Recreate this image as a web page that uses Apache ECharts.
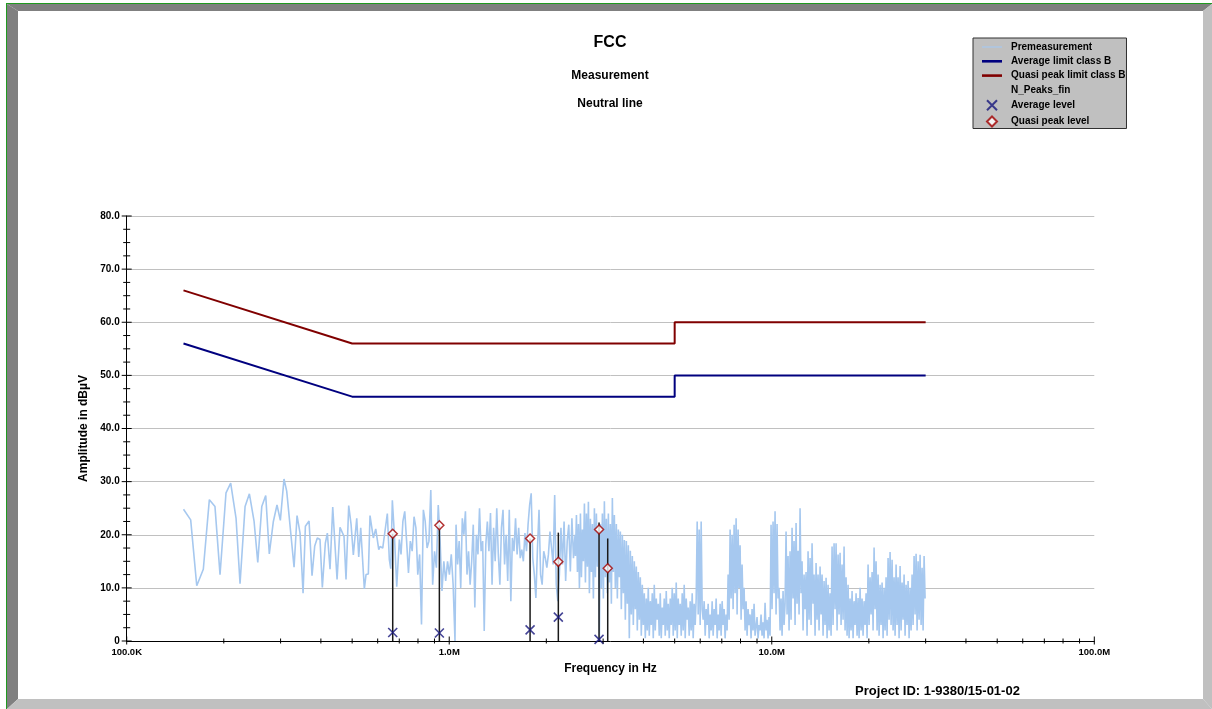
<!DOCTYPE html>
<html>
<head>
<meta charset="utf-8">
<script src="https://cdn.jsdelivr.net/npm/echarts@6/dist/echarts.min.js"></script>
<style>
html,body{margin:0;padding:0;background:#fff;}
#c{width:1212px;height:709px;}
</style>
</head>
<body>
<div id="c"></div>
<script>
// ---------------- DATA ----------------
// Premeasurement, sparse low-frequency part (frequency in kHz, level in dBµV)
const premSparseFreqKHz = [150,157.9,164.9,172.8,180.4,187.8,194.7,203.2,210.1,218.3,224.6,232.8,240.1,248.3,254.9,262.3,269.8,276.8,284.9,292.4,299.5,307.4,313.4,330.3,337.4,344.7,352.2,358.1,367.6,375.5,382.8,389.9,397.5,404.2,412.9,418.9,427.0,435.3,449.0,458.5,471.8,478.6,487.9,496.1,504.3,509.4,516.7,524.1,531.6,545.5,552.1,561.3,568.0,581.7,591.7,604.6,610.3,622.1,631.0,642.8,652.1,658.6,666.2,675.8,687.4,700.3];
const premSparseLevel = [24.8,22.8,10.4,13.5,26.6,25.3,12.5,27.9,29.7,23.1,10.8,25.3,27.7,22.5,14.8,25.3,27.4,16.4,22.5,25.6,22.7,30.5,28.2,13.9,23.6,20.3,9.0,21.6,22.6,12.3,17.9,19.4,19.1,10.1,18.4,20.3,13.5,25.2,11.6,21.4,19.7,11.6,25.5,22.0,16.2,15.9,23.1,15.8,21.3,9.8,12.5,12.6,23.6,19.4,21.1,17.2,17.8,17.5,17.3,24.0,15.3,13.6,26.5,20.2,10.2,19.1];

// Premeasurement, denser sweeps: each block = [start Hz, end Hz] + levels read across it
const premB1Range = [708.8e3, 1.042e6];
const premB1Level = [16.3,22.5,24.4,18.8,12.8,18.8,16.9,23.4,21.3,12.5,16.3,3.1,24.7,22.5,17.5,18.8,28.4,10.6,16.9,13.8,25.6,18.8,9.4,15,11.3,15,12.5,16.3,10.6,0];
const premB2Range = [1.0498e6, 2.455e6];
const premB2Level = [21.9,14.4,18.8,10,23.1,20,24.4,12.5,16.9,10.6,15,21.9,6.3,20,16.3,25,16.9,18.8,1.9,18.1,22.5,16.9,24.1,10.6,21.3,15,25,16.3,10.6,21.3,24.7,14.4,20,11.3,24.7,7.5,19.4,16.9,23.1,16.3,21.3,15.6,17.2,15,20.3,16.9,21.9,25.6,27.8,15.6,12.5,8.1,17.5,24.7,12.5,10.6,16.9,15.6,13.8,16.3,20.6,17.5,14.4,27.5,10.6,7.5,12.5,21.3,14.4,22.5,11.3,18.8,21.9,13.1,23.1,15.6,20];
const premCRange = [2.462e6, 8.876e6];
const premCLevel = [
  16,23.7,13,22,10,24,12,21,15,25.9,11,24,14,26.2,9,23,13,22,8,25,12,24,14,21,0.5,22,10,24,8,26.3,12,23,9,24,11,22,7,26.9,
  13,23.7,10,22,8,21,12,20.6,6,20,9,19,4,18.8,7,18,0.5,17,5,16,3,15,6,14,2,13,4,12,
  1,10.6,3,9,0.5,8,2,10,1,7.5,3,9,0.5,10.6,2,8,4,7,1,9,0.5,6.3,3,8,1,9.4,2,7,0.5,8,3,10,1,9,2,11,0.5,8,3,7,1,9,2,10.6,0.5,8,4,6.3,1,7.5,2,9,0.5,7,3,8,
  22.5,5,21,3,22.5,6,
  4,7.5,1,6,3,7,0.5,5,2,7.5,1,6,3,8,0.5,5,2,7,1,7.5,3,6,0.5,5,2,
  12.5,4,21,8,20,6,21.9,9,23.1,5,21,10,18,4,14.4,6,10,2,
  7.5,1,6,3,5,0.5,6,2,7,1
];
const premDRange = [8.939e6, 29.88e6];
const premDLevel = [
  1,4.5,0.5,3,2,5,1,3.5,0.5,7.2,2,4,0.5,4.5,1,
  21.9,6,22.5,9,24.4,5,22,8,
  10,2,8,1,9.4,3,7,
  20.6,5,16,2,
  16.9,4,21.3,8,18.8,3,22.2,7,17,5,25,9,
  15,2,12.5,6,13,1,16.9,4,15.6,3,18.4,7,12.5,1,14.7,4,12.5,2,14,5,12.5,1,11.3,3,11.9,0.5,10.6,2,9,1,
  17.8,3,18.4,6,18.4,2,16.3,5,16.6,3,14.4,4,17.8,2,12,
  1,10.6,0.5,8,2,9.4,0.5,7.5,3,9,1,8.1,0.5,10,2,8,1,7.5,3,9,0.5,
  14.4,3,12,5,13,2,17.6,6,15,2,
  12.5,1,10.6,3,11,0.5,10,2,12,1,
  15.6,4,16.75,3,15.3,2,12,
  1,14.4,3,12,0.5,14.1,2,11,4,12.5,1,10.6,3,11.3,0.5,10,2,
  12.5,3,16,5,16.4,2,15,4,16.25,3,13.8,2,16,8
];

// Limits (frequency Hz, level dBµV)
const avgLimitFreq = [150e3, 500e3, 5e6, 5e6, 30e6];
const avgLimitLevel = [56, 46, 46, 50, 50];
const qpLimitFreq = [150e3, 500e3, 5e6, 5e6, 30e6];
const qpLimitLevel = [66, 56, 56, 60, 60];

// Final peaks
const peakFreq = [668e3, 932e3, 1.781e6, 2.179e6, 2.914e6, 3.100e6];
const peakTop = [20.2, 21.8, 19.3, 20.4, 22.3, 19.3];
const peakQP = [20.2, 21.8, 19.3, 14.9, 21.0, 13.7];
const peakAvg = [1.6, 1.5, 2.1, 4.5, 0.3, null];

// Axis ticks / labels
const xMajorTicks = [1e5, 1e6, 1e7, 1e8];
const xTickLabels = {5: '100.0K', 6: '1.0M', 7: '10.0M', 8: '100.0M'};
const xMinorMultipliers = [2,3,4,5,6,7,8,9];
const yTickStep = 2.5;

// ---------------- BUILD ----------------
function sweep(range, levels) {
  const a = Math.log10(range[0]), b = Math.log10(range[1]), n = levels.length;
  return levels.map((v, i) => [Math.pow(10, a + (b - a) * (n === 1 ? 0 : i / (n - 1))), v]);
}
const premData = premSparseFreqKHz.map((f, i) => [f * 1e3, premSparseLevel[i]])
  .concat(sweep(premB1Range, premB1Level))
  .concat(sweep(premB2Range, premB2Level))
  .concat(sweep(premCRange, premCLevel))
  .concat(sweep(premDRange, premDLevel));

const xTickData = [];
xMajorTicks.forEach(f => xTickData.push([f, 0, 1]));
[1e5, 1e6, 1e7].forEach(d => xMinorMultipliers.forEach(m => xTickData.push([d * m, 0, 0])));
const yTickData = [];
for (let v = 0; v <= 80 + 1e-9; v += yTickStep) yTickData.push([1e5, v, (v % 10 === 0) ? 1 : 0]);

const FONT = '"Liberation Sans", Arial, sans-serif';
const PREM_COLOR = '#a6c8ef';
const AVG_COLOR = '#00007f';
const QP_COLOR = '#800000';
const chart = echarts.init(document.getElementById('c'), null, {renderer: 'canvas'});

const lineIcon = w => 'path://M0,0L0,0M0,' + (5 - w / 2) + 'L20,' + (5 - w / 2) + 'L20,' + (5 + w / 2) + 'L0,' + (5 + w / 2) + 'ZM20,10L20,10';

const option = {
  animation: false,
  backgroundColor: '#ffffff',
  textStyle: {fontFamily: FONT},
  grid: {left: 126.7, right: 117.7, top: 216, bottom: 68},
  legend: {
    orient: 'vertical', left: 973, top: 38,
    backgroundColor: '#c0c0c0', borderColor: '#303030', borderWidth: 1,
    padding: [4, 1, 1, 9],
    itemWidth: 20, itemHeight: 10, itemGap: 4.3,
    selectedMode: false,
    textStyle: {fontSize: 10, fontWeight: 'bold', color: '#000', fontFamily: FONT, padding: [0, 0, 0, 4]},
    data: [
      {name: 'Premeasurement', icon: lineIcon(1.2), itemStyle: {color: PREM_COLOR, borderWidth: 0}},
      {name: 'Average limit class B', icon: lineIcon(2.6), itemStyle: {color: AVG_COLOR, borderWidth: 0}},
      {name: 'Quasi peak limit class B', icon: lineIcon(2.6), itemStyle: {color: QP_COLOR, borderWidth: 0}},
      {name: 'N_Peaks_fin', icon: 'rect', itemStyle: {color: 'transparent', borderWidth: 0, opacity: 0}},
      {name: 'Average level', icon: 'path://M0,0L10,10M10,0L0,10'},
      {name: 'Quasi peak level', icon: 'path://M5,1L9,5L5,9L1,5Z'}
    ]
  },
  xAxis: {
    type: 'log', logBase: 10, min: 1e5, max: 1e8,
    name: 'Frequency in Hz', nameLocation: 'middle', nameGap: 22,
    nameTextStyle: {fontSize: 12, fontWeight: 'bold', color: '#000', fontFamily: FONT},
    axisLine: {show: true, onZero: false, lineStyle: {color: '#000', width: 1}},
    axisTick: {show: false},
    splitLine: {show: false},
    axisLabel: {
      margin: 6, fontSize: 9.5, fontWeight: 'bold', color: '#000', fontFamily: FONT,
      showMinLabel: true, showMaxLabel: true,
      formatter: v => xTickLabels[Math.round(Math.log10(v))] || ''
    }
  },
  yAxis: {
    type: 'value', min: 0, max: 80, interval: 10,
    name: 'Amplitude in dBµV', nameLocation: 'middle', nameGap: 34.5, nameRotate: 90,
    nameTextStyle: {fontSize: 12, fontWeight: 'bold', color: '#000', fontFamily: FONT},
    axisLine: {show: true, lineStyle: {color: '#000', width: 1}},
    axisTick: {show: false},
    splitLine: {show: true, lineStyle: {color: '#c0c0c0', width: 1}},
    axisLabel: {
      margin: 7, fontSize: 10, fontWeight: 'bold', color: '#000', fontFamily: FONT,
      formatter: v => v === 0 ? '0' : v.toFixed(1)
    }
  },
  graphic: [
    // frame
    {type: 'polygon', z: -10, shape: {points: [[7,4],[1212,4],[1203,11],[18,11]]}, style: {fill: '#808080'}},
    {type: 'polygon', z: -10, shape: {points: [[7,4],[18,11],[18,699],[7,709]]}, style: {fill: '#808080'}},
    {type: 'polygon', z: -10, shape: {points: [[1203,11],[1212,4],[1212,709],[1203,699]]}, style: {fill: '#c0c0c0'}},
    {type: 'polygon', z: -10, shape: {points: [[18,699],[1203,699],[1212,709],[7,709]]}, style: {fill: '#c0c0c0'}},
    {type: 'rect', z: -9, shape: {x: 6, y: 3, width: 1206, height: 1}, style: {fill: '#1f9a1f'}},
    {type: 'rect', z: -9, shape: {x: 6, y: 3, width: 1, height: 706}, style: {fill: '#1f9a1f'}},
    // titles
    {type: 'text', x: 610, y: 43, style: {text: 'FCC', align: 'center', verticalAlign: 'middle', font: 'bold 16px ' + FONT, fill: '#000'}},
    {type: 'text', x: 610, y: 76, style: {text: 'Measurement', align: 'center', verticalAlign: 'middle', font: 'bold 12px ' + FONT, fill: '#000'}},
    {type: 'text', x: 610, y: 104, style: {text: 'Neutral line', align: 'center', verticalAlign: 'middle', font: 'bold 12px ' + FONT, fill: '#000'}},
    {type: 'text', x: 937.5, y: 691, style: {text: 'Project ID: 1-9380/15-01-02', align: 'center', verticalAlign: 'middle', font: 'bold 13px ' + FONT, fill: '#000'}}
  ],
  series: [
    {
      name: 'Premeasurement', type: 'line', data: premData, symbol: 'none', z: 2,
      lineStyle: {color: PREM_COLOR, width: 1.6}, itemStyle: {color: PREM_COLOR}, sampling: null
    },
    {
      name: 'Average limit class B', type: 'line', symbol: 'none', z: 3,
      data: avgLimitFreq.map((f, i) => [f, avgLimitLevel[i]]),
      lineStyle: {color: AVG_COLOR, width: 2}, itemStyle: {color: AVG_COLOR}
    },
    {
      name: 'Quasi peak limit class B', type: 'line', symbol: 'none', z: 3,
      data: qpLimitFreq.map((f, i) => [f, qpLimitLevel[i]]),
      lineStyle: {color: QP_COLOR, width: 2}, itemStyle: {color: QP_COLOR}
    },
    {
      name: 'N_Peaks_fin', type: 'custom', z: 4, clip: false,
      data: peakFreq.map((f, i) => [f, peakTop[i]]),
      encode: {x: 0, y: 1},
      itemStyle: {color: '#222'},
      renderItem: (params, api) => {
        const p0 = api.coord([api.value(0), 0]);
        const p1 = api.coord([api.value(0), api.value(1)]);
        return {type: 'line', shape: {x1: p0[0], y1: p0[1], x2: p1[0], y2: p1[1]}, style: {stroke: '#1a1a1a', lineWidth: 1.5}};
      }
    },
    {
      name: 'Average level', type: 'scatter', z: 6,
      data: peakFreq.map((f, i) => [f, peakAvg[i]]).filter(d => d[1] !== null),
      symbol: 'path://M0,0L10,10M10,0L0,10', symbolSize: 9,
      itemStyle: {color: 'transparent', borderColor: '#16167c', borderWidth: 1.6}
    },
    {
      name: 'Quasi peak level', type: 'scatter', z: 6,
      data: peakFreq.map((f, i) => [f, peakQP[i]]),
      symbol: 'diamond', symbolSize: 9,
      itemStyle: {color: '#ffffff', borderColor: '#a00000', borderWidth: 1.5}
    },
    {
      name: 'xticks', type: 'custom', z: 8, clip: false, silent: true,
      data: xTickData, encode: {x: 0, y: 1},
      renderItem: (params, api) => {
        const p = api.coord([api.value(0), 0]);
        const major = api.value(2) === 1;
        const up = major ? 4.5 : 2.5, dn = major ? 3.5 : 2.5;
        return {type: 'line', shape: {x1: p[0], y1: p[1] - up, x2: p[0], y2: p[1] + dn}, style: {stroke: '#000', lineWidth: 1}};
      }
    },
    {
      name: 'yticks', type: 'custom', z: 8, clip: false, silent: true,
      data: yTickData, encode: {x: 0, y: 1},
      renderItem: (params, api) => {
        const p = api.coord([api.value(0), api.value(1)]);
        const major = api.value(2) === 1;
        const l = major ? 5 : 3.5, r = major ? 5 : 3.5;
        return {type: 'line', shape: {x1: p[0] - l, y1: p[1], x2: p[0] + r, y2: p[1]}, style: {stroke: '#000', lineWidth: 1}};
      }
    }
  ]
};
chart.setOption(option);
</script>
</body>
</html>
